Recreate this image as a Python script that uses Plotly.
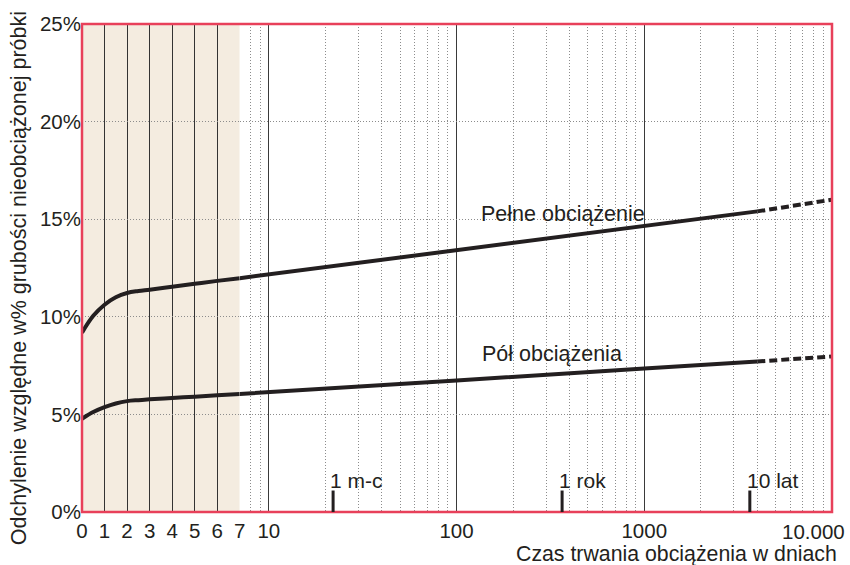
import math
import plotly.graph_objects as go

# Load duration in days: linear scale for the first week, log scale afterwards
days_lin = [0, 0.5, 1, 1.5, 2, 2.5, 3, 4, 5, 6, 7]
full_lin = [9.19, 10.05, 10.62, 11.0, 11.22, 11.32, 11.39, 11.54, 11.69, 11.84, 11.98]
half_lin = [4.78, 5.12, 5.37, 5.56, 5.68, 5.73, 5.77, 5.84, 5.91, 5.98, 6.05]

days_log = [7, 10, 100, 1000, 4000]
full_log = [11.98, 12.17, 13.41, 14.65, 15.40]
half_log = [6.05, 6.14, 6.74, 7.35, 7.71]

# Extrapolated part (dashed)
days_ext = [4000, 10000]
full_ext = [15.40, 16.0]
half_ext = [7.71, 7.97]

lin_ticks = [0, 1, 2, 3, 4, 5, 6, 7]
log_ticks = [10, 100, 1000, 10000]
log_tick_text = ["10", "100", "1000", ""]
y_ticks = [0, 5, 10, 15, 20, 25]
y_tick_text = ["0%", "5%", "10%", "15%", "20%", "25%"]

period_days = [22, 365, 3650]
period_labels = ["1 m-c", "1 rok", "10 lat"]

curve_labels = ["Pełne obciążenie", "Pół obciążenia"]
curve_label_pos = [(135, 15.29), (137, 8.09)]

INK = "#231f20"
RED = "#e8405a"
FONT = "Liberation Sans, Arial, sans-serif"

fig = go.Figure()

line_style = dict(color=INK, width=4)
fig.add_trace(go.Scatter(x=days_lin, y=full_lin, mode="lines", xaxis="x", yaxis="y",
                         line=dict(shape="spline", smoothing=1.0, **line_style), hoverinfo="skip"))
fig.add_trace(go.Scatter(x=days_lin, y=half_lin, mode="lines", xaxis="x", yaxis="y",
                         line=dict(shape="spline", smoothing=1.0, **line_style), hoverinfo="skip"))
fig.add_trace(go.Scatter(x=days_log, y=full_log, mode="lines", xaxis="x2", yaxis="y",
                         line=line_style, hoverinfo="skip"))
fig.add_trace(go.Scatter(x=days_log, y=half_log, mode="lines", xaxis="x2", yaxis="y",
                         line=line_style, hoverinfo="skip"))
fig.add_trace(go.Scatter(x=days_ext, y=full_ext, mode="lines", xaxis="x2", yaxis="y",
                         line=dict(color=INK, width=4, dash="8px,4px"), hoverinfo="skip"))
fig.add_trace(go.Scatter(x=days_ext, y=half_ext, mode="lines", xaxis="x2", yaxis="y",
                         line=dict(color=INK, width=4, dash="8px,4px"), hoverinfo="skip"))

left_w = 159.0 / 756.0
lo, hi = math.log10(7), 4.0
minor_vals = [m * 10 ** e for e in range(0, 4) for m in range(2, 10)
              if 7 < m * 10 ** e < 10000]

tickfont = dict(family=FONT, size=20.5, color=INK)
DOT = "1px,2px"
DOT_COLOR = "#8c8c8c"

fig.update_layout(
    width=850, height=565,
    margin=dict(l=82, r=12, t=21, b=53),
    paper_bgcolor="white", plot_bgcolor="white",
    showlegend=False,
    font=dict(family=FONT, color=INK),
    xaxis=dict(domain=[0, left_w], range=[0, 7], tickvals=lin_ticks,
               showgrid=True, gridcolor="#333333", gridwidth=1, zeroline=False,
               showline=False, ticks="", tickfont=tickfont, anchor="y",
               ticklabelstandoff=4),
    xaxis2=dict(domain=[left_w, 1], type="log", range=[lo, hi], tickvals=log_ticks,
                ticktext=log_tick_text, showgrid=True, gridcolor="#3a3a3a", gridwidth=1,
                zeroline=False, showline=False, ticks="", tickfont=tickfont, anchor="y",
                ticklabelstandoff=4,
                minor=dict(tickvals=minor_vals, showgrid=True, gridcolor=DOT_COLOR,
                           griddash=DOT, gridwidth=1, ticks="")),
    yaxis=dict(range=[0, 25], tickvals=y_ticks, ticktext=y_tick_text, zeroline=False,
               showline=False, ticks="", tickfont=tickfont, showgrid=True,
               gridcolor=DOT_COLOR, griddash=DOT, gridwidth=1),
)

# Shaded first week
fig.add_shape(type="rect", xref="x", yref="y domain", x0=0, x1=7, y0=0, y1=1,
              fillcolor="#f4ece0", line_width=0, layer="below")

# Red frame around the plot area
fig.add_shape(type="rect", xref="paper", yref="paper", x0=0, x1=1, y0=0, y1=1,
              line=dict(color=RED, width=2.5), layer="above")

# Period markers
for d, lab in zip(period_days, period_labels):
    fig.add_shape(type="line", xref="x2", yref="y", x0=d, x1=d, y0=0, y1=1.1,
                  line=dict(color=INK, width=3), layer="above")
    fig.add_annotation(xref="x2", yref="y", x=math.log10(d), y=1.6, text=lab,
                       showarrow=False, xanchor="left", yanchor="middle", xshift=-5,
                       font=dict(family=FONT, size=21, color=INK))

for lab, (d, v) in zip(curve_labels, curve_label_pos):
    fig.add_annotation(xref="x2", yref="y", x=math.log10(d), y=v, text=lab,
                       showarrow=False, xanchor="left", yanchor="middle", xshift=-2,
                       font=dict(family=FONT, size=21.5, color=INK))

# Last log tick label, pulled left to stay inside the page
fig.add_annotation(xref="x2", yref="paper", x=4, y=0, text="10.000", showarrow=False,
                   xanchor="center", yanchor="top", xshift=-18, yshift=-6,
                   font=tickfont)

# Axis titles
fig.add_annotation(xref="paper", yref="paper", x=1, y=0, text="Czas trwania obciążenia w dniach",
                   showarrow=False, xanchor="right", yanchor="middle", xshift=7, yshift=-42,
                   font=dict(family=FONT, size=21.3, color=INK))
fig.add_annotation(xref="paper", yref="paper", x=0, y=0.479,
                   text="Odchylenie względne w% grubości nieobciążonej próbki",
                   showarrow=False, textangle=-90, xanchor="center", yanchor="middle",
                   xshift=-63, font=dict(family=FONT, size=21.5, color=INK))

fig.write_html("out.html")
